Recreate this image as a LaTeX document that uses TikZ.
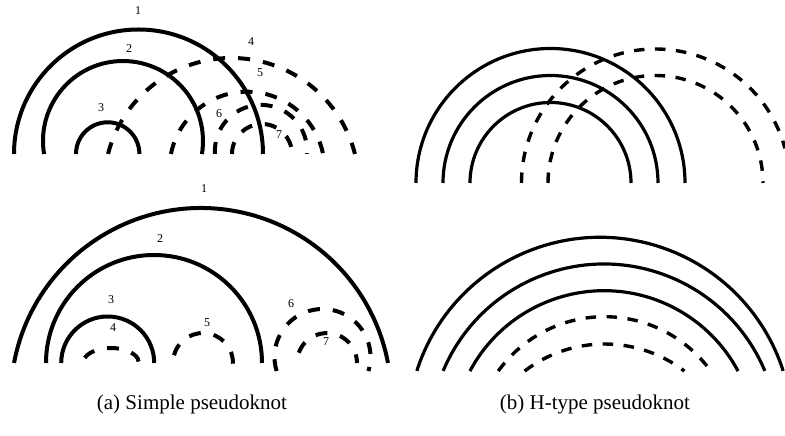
\documentclass[tikz,border=0pt]{standalone}
\usepackage{fontspec}
\setmainfont{Liberation Serif}

\begin{document}
\begin{tikzpicture}[
            x=1pt, y=1pt,
            stem/.style={line width=4pt},
            knot/.style={line width=4pt, dash pattern=on 12pt off 13pt},
            stemthin/.style={line width=3.2pt},
            knotthin/.style={line width=3.4pt, dash pattern=on 10.5pt off 10.5pt},
            lbl/.style={font=\fontsize{12}{14}\selectfont, inner sep=0pt},
            caption/.style={font=\fontsize{21}{25}\selectfont, inner sep=0pt, anchor=base},
        ]
            \useasboundingbox (0,0) rectangle (785,436);

            % (a) top: nested stems 1-3
            \foreach \cx/\cy/\r/\a/\b in {138.5/282/124.5/180/0, 123/295/80/189.4/-9.4, 107.7/282/31.7/180/0}
                \draw[stem] ([shift={(\a:\r)}]\cx,\cy) arc (\a:\b:\r);

            % (a) top: crossing stems 4-7
            \foreach \cx/\cy/\r/\a/\b in {231.5/250.6/127.4/165.7/14.3, 247/266.7/77.6/168.6/11.4,
                                          261/285/46.1/183.7/-3.7, 262/282/30/180/0}
                \draw[knot] ([shift={(\a:\r)}]\cx,\cy) arc (\a:\b:\r);

            \foreach \n/\lx/\ly in {1/138/425, 2/129/387, 3/101/328, 4/251/394, 5/260/363, 6/219/322, 7/279/301}
                \node[lbl] (ta-\n) at (\lx,\ly) {\n};

            % (a) bottom: the same stems, unfolded
            \foreach \cx/\cy/\r/\a/\b in {201/37.7/190.3/169.3/10.7, 154/73/108/180/0, 107.7/73/46.5/180/0}
                \draw[stem] ([shift={(\a:\r)}]\cx,\cy) arc (\a:\b:\r);

            \foreach \cx/\cy/\r/\a/\b in {111/73/28 and 15/160/0, 203/73/30/165/-2,
                                          322.5/79/48/197/-17, 327/73/30/160/0}
                \draw[knot] ([shift={(\a:\r)}]\cx,\cy) arc (\a:\b:\r);

            \foreach \n/\lx/\ly in {1/204/247, 2/160/197, 3/111/136, 4/113/108, 5/207/113, 6/291/132, 7/326/94}
                \node[lbl] (ba-\n) at (\lx,\ly) {\n};

            % (b) top: H-type, two stems crossing
            \foreach \r in {134.5, 107.5, 80.5}
                \draw[stemthin] ([shift={(180:\r)}]550.5,253) arc (180:0:\r);
            \draw[knotthin] ([shift={(180:134)}]655.5,253) arc (180:15:134);
            \draw[knotthin] ([shift={(180:107.5)}]655.5,253) arc (180:0:107.5);

            % (b) bottom: unfolded
            \foreach \cx/\cy/\r/\a/\b in {600/6.3/192.4/162.2/17.8, 604/-2.5/174.5/157.2/22.8, 604/-6.7/152/151.9/28.1}
                \draw[stemthin] ([shift={(\a:\r)}]\cx,\cy) arc (\a:\b:\r);
            \foreach \cx/\cy/\r/\a/\b in {604.5/-11.7/131/144.2/35.8, 604.5/-39.5/131.5/127.4/52.6}
                \draw[knotthin] ([shift={(\a:\r)}]\cx,\cy) arc (\a:\b:\r);

            % captions
            \node[caption] (cap-a) at (192,26) {(a)\ Simple pseudoknot};
            \node[caption] (cap-b) at (595,26) {(b)\ H-type pseudoknot};
        \end{tikzpicture}
\end{document}
